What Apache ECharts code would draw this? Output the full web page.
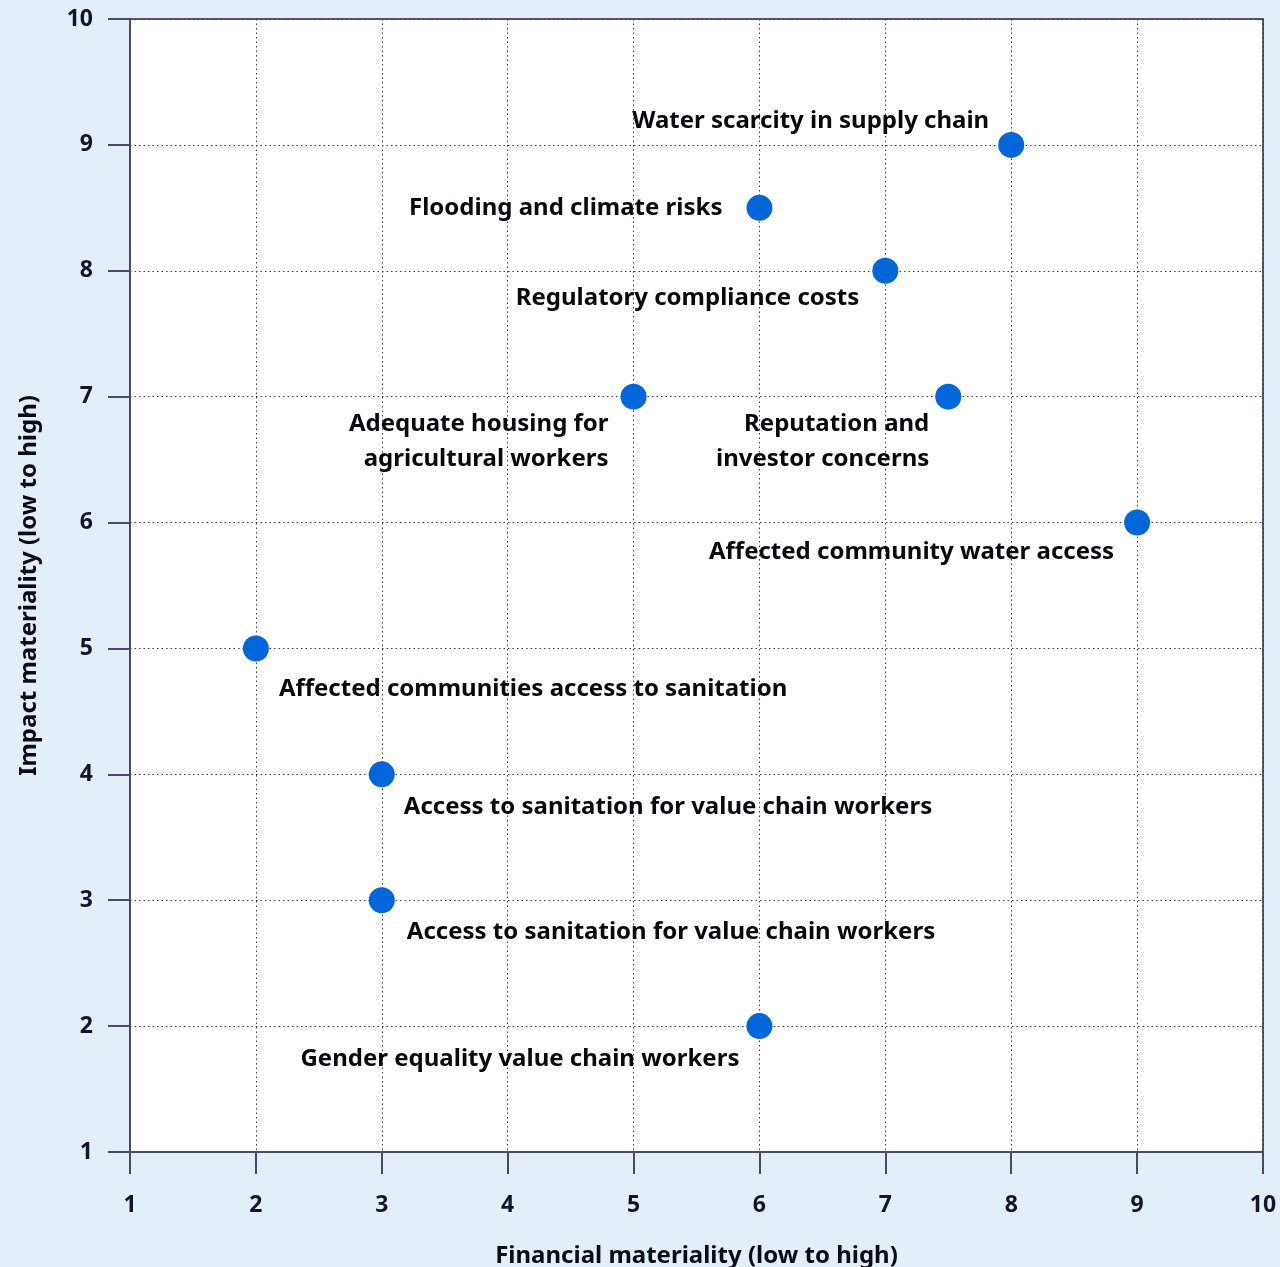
<!DOCTYPE html>
<html>
<head>
<meta charset="utf-8">
<script src="https://cdn.jsdelivr.net/npm/echarts@6/dist/echarts.min.js"></script>
<style>
  html, body { margin: 0; padding: 0; background: #e4eef9; }
  #chart { width: 1280px; height: 1267px; }
</style>
</head>
<body>
<div id="chart"></div>
<script>
// Materiality topics and their scores
const topics = [
  'Water scarcity in supply chain',
  'Flooding and climate risks',
  'Regulatory compliance costs',
  'Adequate housing for\nagricultural workers',
  'Reputation and\ninvestor concerns',
  'Affected community water access',
  'Affected communities access to sanitation',
  'Access to sanitation for value chain workers',
  'Access to sanitation for value chain workers',
  'Gender equality value chain workers'
];
const financialScores = [8, 6, 7, 5, 7.5, 9, 2, 3, 3, 6];
const impactScores    = [9, 8.5, 8, 7, 7, 6, 5, 4, 3, 2];

// Axis ticks
const axisMin = 1;
const axisMax = 10;
const axisStep = 1;

// Where each topic's label sits relative to its dot
const labelLayoutTable = [
  { align: 'right', dx: -22, dy: -24 },
  { align: 'right', dx: -37, dy: 0 },
  { align: 'right', dx: -26, dy: 27 },
  { align: 'right', dx: -25, dy: 45 },
  { align: 'right', dx: -19, dy: 45 },
  { align: 'right', dx: -23, dy: 30 },
  { align: 'left',  dx: 23,  dy: 41 },
  { align: 'left',  dx: 22,  dy: 33 },
  { align: 'left',  dx: 25,  dy: 32 },
  { align: 'right', dx: -20, dy: 33 }
];

const FONT = '"Noto Sans", "Open Sans", sans-serif';
const INK = '#14142e';
const AXIS_COLOR = '#4a4a62';

const points = topics.map((name, i) => ({
  name: name,
  value: [financialScores[i], impactScores[i]],
  label: { align: labelLayoutTable[i].align }
}));

const axisCommon = {
  type: 'value',
  min: axisMin,
  max: axisMax,
  interval: axisStep,
  axisLine: { show: true, onZero: false, lineStyle: { color: AXIS_COLOR, width: 2 } },
  axisTick: { show: true, length: 22, inside: false, lineStyle: { color: AXIS_COLOR, width: 2 } },
  splitLine: { show: true, lineStyle: { color: '#3a3a5c', type: [1.5, 3], width: 1 } },
  axisLabel: { color: INK, fontFamily: FONT, fontWeight: 'bold', fontSize: 23 },
  nameTextStyle: { color: '#0c0c18', fontFamily: FONT, fontWeight: 'bold', fontSize: 24 },
  nameLocation: 'middle'
};

const chart = echarts.init(document.getElementById('chart'));
chart.setOption({
  backgroundColor: '#e4eef9',
  animation: false,
  grid: {
    left: 130, right: 17, top: 19, bottom: 115,
    outerBoundsMode: 'none',
    containLabel: false,
    show: true,
    backgroundColor: '#ffffff',
    borderColor: '#23233a',
    borderWidth: 1.5
  },
  xAxis: Object.assign({}, axisCommon, {
    name: 'Financial materiality (low to high)',
    nameGap: 92,
    axisLabel: Object.assign({}, axisCommon.axisLabel, { margin: 42 })
  }),
  yAxis: Object.assign({}, axisCommon, {
    name: 'Impact materiality (low to high)',
    nameGap: 89,
    axisLabel: Object.assign({}, axisCommon.axisLabel, { margin: 37 })
  }),
  series: [{
    type: 'scatter',
    symbol: 'circle',
    symbolSize: 26,
    itemStyle: { color: '#0066d9', opacity: 1 },
    label: {
      show: true,
      position: 'inside',
      verticalAlign: 'middle',
      formatter: '{b}',
      color: '#08080f',
      fontFamily: FONT,
      fontWeight: 'bold',
      fontSize: 24,
      lineHeight: 35
    },
    labelLayout: function (params) {
      const l = labelLayoutTable[params.dataIndex];
      return { dx: l.dx, dy: l.dy, align: l.align, verticalAlign: 'middle', hideOverlap: false };
    },
    data: points,
    z: 3
  }]
});
</script>
</body>
</html>
